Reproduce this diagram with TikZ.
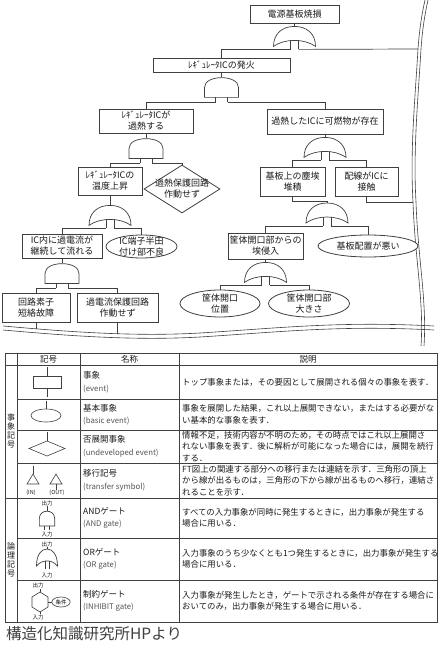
\documentclass[tikz,border=0pt]{standalone}
\usepackage{fontspec}
\setmainfont{Noto Sans CJK JP}
\usepackage{tikz}
\usetikzlibrary{shapes.geometric, arrows.meta, positioning, calc}
\definecolor{FTLine}{HTML}{404040}
\definecolor{FTText}{HTML}{1A1A1A}
\definecolor{FTGrey}{HTML}{555555}
\newcommand{\ftfont}{\fontsize{9}{11}\selectfont}
\newcommand{\tabfont}{\fontsize{8.4}{11.5}\selectfont}
\newcommand{\namefont}{\fontsize{8.5}{12.5}\selectfont}
\newcommand{\engfont}{\fontsize{7.8}{9}\selectfont\color{FTGrey}}
\newcommand{\tinylab}{\fontsize{5.5}{6}\selectfont}
\tikzset{
    % Event styles
    eventbox/.style={
        rectangle,
        draw=FTLine,
        fill=white,
        line width=0.8pt,
        inner sep=1pt,
        align=center,
        text=FTText,
        font=\ftfont
    },
    basicevent/.style={
        ellipse,
        draw=FTLine,
        fill=white,
        line width=0.8pt,
        inner xsep=0pt,
        inner ysep=-5pt,
        align=center,
        text=FTText,
        font=\ftfont
    },
    undevevent/.style={
        diamond,
        draw=FTLine,
        fill=white,
        line width=0.8pt,
        aspect=1.6,
        inner xsep=-16pt,
        inner ysep=0pt,
        align=center,
        text=FTText,
        font=\ftfont
    },
    % Line styles
    ftline/.style={draw=FTLine, line width=0.7pt},
    cutline/.style={draw=FTLine, line width=0.6pt},
    tabline/.style={draw=FTLine, line width=0.9pt},
    symline/.style={draw=FTLine, line width=0.6pt},
    gatebody/.style={draw=FTLine, fill=white, line width=0.7pt},
    % Table text styles
    headcell/.style={font=\namefont, text=FTText, inner sep=0pt},
    namecell/.style={anchor=west, align=left, font=\namefont, text=FTText, inner sep=0pt},
    desccell/.style={anchor=west, align=left, font=\tabfont, text=FTText, inner sep=0pt},
    ionote/.style={font=\tinylab, text=FTText, inner sep=0.5pt},
    % Gates
    andgate/.pic={
        \draw[gatebody] (-17,20) -- (-17,10) .. controls (-17,-3) and (17,-3) .. (17,10) -- (17,20) -- cycle;
        \draw[gatebody] (-6,20) -- (-6,25) coordinate (-l) (6,20) -- (6,25) coordinate (-r);
        \coordinate (-out) at (0,0);
    },
    orgate/.pic={
        \draw[gatebody] (-21,20) .. controls (-21,7) and (-12,0) .. (0,0) .. controls (12,0) and (21,7) .. (21,20) .. controls (10,12) and (-10,12) .. (-21,20) -- cycle;
        \draw[gatebody] (-4,14) -- (-4,23) coordinate (-l) (4,14) -- (4,23) coordinate (-r);
        \coordinate (-out) at (0,0);
    }
}

\begin{document}
\begin{tikzpicture}[x=1pt, y=-1pt]
    \fill[white] (0,0) rectangle (443,650);
    \useasboundingbox (0,0) rectangle (443,650);

    % Cut marks
    \draw[cutline] (425,0) .. controls (421,18) and (419,34) .. (418,49) .. controls (415,100) and (410,150) .. (413,202) .. controls (415,260) and (424,300) .. (421,346);
    \draw[cutline] (428,0) .. controls (424,18) and (422,34) .. (421,49) .. controls (418,100) and (413,150) .. (416,202) .. controls (418,260) and (427,300) .. (424,346);
    \draw[cutline] (3,326) .. controls (60,331) and (130,337) .. (200,333) .. controls (280,328) and (340,321) .. (434,326);
    \draw[cutline] (3,330) .. controls (60,335) and (130,341) .. (200,337) .. controls (280,332) and (340,325) .. (434,330);
    \coordinate (cutA) at (418,49);
    \coordinate (cutB) at (413,202);
    \coordinate (cutC) at (36,329);
    \coordinate (cutD) at (117.5,333.7);

    % Events
    \node[eventbox, minimum width=89pt, minimum height=18pt] (top) at (294.5,14) {電源基板焼損};
    \node[eventbox, minimum width=137pt, minimum height=14pt] (fire) at (221.5,65) {ﾚｷﾞｭﾚｰﾀICの発火};
    \node[eventbox, minimum width=94pt, minimum height=24pt] (heat) at (146,121) {ﾚｷﾞｭﾚｰﾀICが\\過熱する};
    \node[eventbox, minimum width=116pt, minimum height=25pt] (comb) at (325,121.5) {過熱したICに可燃物が存在};
    \node[eventbox, minimum width=64pt, minimum height=28pt] (temp) at (110,181) {ﾚｷﾞｭﾚｰﾀICの\\温度上昇};
    \node[undevevent, minimum width=76pt, minimum height=48pt] (noprot) at (182,189) {過熱保護回路\\作動せず};
    \node[eventbox, minimum width=65pt, minimum height=29pt] (dust) at (292.5,181.5) {基板上の塵埃\\堆積};
    \node[eventbox, minimum width=63pt, minimum height=29pt] (wire) at (366.5,181.5) {配線がICに\\接触};
    \node[eventbox, minimum width=80pt, minimum height=24pt] (oc) at (62,246) {IC内に過電流が\\継続して流れる};
    \node[basicevent, minimum width=71pt, minimum height=23pt] (solder) at (141.5,246.5) {IC端子半田\\付け部不良};
    \node[eventbox, minimum width=75pt, minimum height=26pt] (intake) at (265.5,246) {筐体開口部からの\\埃侵入};
    \node[basicevent, minimum width=100pt, minimum height=22pt] (layout) at (368,246) {基板配置が悪い};
    \node[eventbox, minimum width=68pt, minimum height=29pt] (short) at (36,307.5) {回路素子\\短絡故障};
    \node[eventbox, minimum width=81pt, minimum height=29pt] (protect) at (117.5,307.5) {過電流保護回路\\作動せず};
    \node[basicevent, minimum width=80pt, minimum height=27pt] (pos) at (220,303.5) {筐体開口\\位置};
    \node[basicevent, minimum width=81pt, minimum height=27pt] (size) at (309,303.5) {筐体開口部\\大きさ};

    % Gates
    \pic (g1) at ([yshift=-3pt]top.south) {orgate};
    \pic (g2) at ([yshift=-5pt]fire.south) {andgate};
    \pic (g3) at ([yshift=-5pt]heat.south) {andgate};
    \pic (g4) at ([yshift=-3pt]comb.south) {orgate};
    \pic (g5) at ([yshift=-10pt]temp.south) {orgate};
    \pic (g6) at (327,203) {orgate};
    \pic (g7) at ([yshift=-3pt]intake.south) {orgate};
    \pic (g8) at ([yshift=-5pt]oc.south) {andgate};

    % Connections
    \foreach \parent/\gt in {top/g1, fire/g2, heat/g3, comb/g4, temp/g5, intake/g7, oc/g8}
        \draw[ftline] (\parent.south) -- (\gt-out);
    \foreach \gt/\lchild/\rchild in {g2/heat/comb, g3/temp/noprot, g4/dust/wire, g5/oc/solder,
                                      g6/intake/layout, g7/pos/size, g8/short/protect} {
        \draw[ftline] (\gt-l) -| (\lchild.north);
        \draw[ftline] (\gt-r) -| (\rchild.north);
    }
    \draw[ftline] (g1-l) -| (fire.north);
    \draw[ftline] (g1-r) -- (cutA);
    \draw[ftline] (dust.south) -- ++(0,5) -| (g6-out);
    \draw[ftline] (wire.south) |- (cutB);
    \draw[ftline] (short.south) -- (cutC);
    \draw[ftline] (protect.south) -- (cutD);

    % Table frame
    \draw[tabline] (5,353) rectangle (437,622);
    \foreach \x in {17,80,179}
        \draw[tabline] (\x,353) -- (\x,622);
    \foreach \y in {365,498}
        \draw[tabline] (5,\y) -- (437,\y);
    \foreach \y in {399,430,463,538,580}
        \draw[tabline] (17,\y) -- (437,\y);

    % Header
    \node[headcell] (hdsym) at (48.5,359) {記号};
    \node[headcell] (hdname) at (129.5,359) {名称};
    \node[headcell] (hddesc) at (308,359) {説明};
    \node[headcell, align=center, font=\fontsize{8}{9}\selectfont] (grpev) at (11,431) {事\\象\\記\\号};
    \node[headcell, align=center, font=\fontsize{8}{9}\selectfont] (grplog) at (11,560) {論\\理\\記\\号};

    % Names
    \node[namecell] (nm1) at (83,382) {事象\\{\engfont (event)}};
    \node[namecell] (nm2) at (83,414.5) {基本事象\\{\engfont (basic event)}};
    \node[namecell] (nm3) at (83,446.5) {否展開事象\\{\engfont (undeveloped event)}};
    \node[namecell] (nm4) at (83,480.5) {移行記号\\{\engfont (transfer symbol)}};
    \node[namecell] (nm5) at (83,518) {ANDゲート\\{\engfont (AND gate)}};
    \node[namecell] (nm6) at (83,559) {ORゲート\\{\engfont (OR gate)}};
    \node[namecell] (nm7) at (83,601) {制約ゲート\\{\engfont (INHIBIT gate)}};

    % Descriptions
    \node[desccell] (ds1) at (182,382) {トップ事象または，その要因として展開される個々の事象を表す．};
    \node[desccell] (ds2) at (182,414.5) {事象を展開した結果，これ以上展開できない，またはする必要がな\\い基本的な事象を表す．};
    \node[desccell] (ds3) at (182,446.5) {情報不足，技術内容が不明のため，その時点ではこれ以上展開さ\\れない事象を表す．後に解析が可能になった場合には，展開を続行\\する．};
    \node[desccell] (ds4) at (182,480.5) {FT図上の関連する部分への移行または連結を示す．三角形の頂上\\から線が出るものは，三角形の下から線が出るものへ移行，連結さ\\れることを示す．};
    \node[desccell] (ds5) at (182,518) {すべての入力事象が同時に発生するときに，出力事象が発生する\\場合に用いる．};
    \node[desccell] (ds6) at (182,559) {入力事象のうち少なくとも1つ発生するときに，出力事象が発生する\\場合に用いる．};
    \node[desccell] (ds7) at (182,601) {入力事象が発生したとき，ゲートで示される条件が存在する場合に\\おいてのみ，出力事象が発生する場合に用いる．};

    % Symbols: events
    \draw[symline] (33,376) rectangle (61,388);
    \draw[symline] (47,367) -- (47,376) (47,388) -- (47,397);
    \draw[symline] (46,415.5) ellipse [x radius=15, y radius=6.5];
    \draw[symline] (46,401) -- (46,409);
    \draw[symline] (47,441) -- (65,448.5) -- (47,456) -- (29,448.5) -- cycle;
    \draw[symline] (47,432) -- (47,441);
    \draw[symline] (33,474) -- (39,484) -- (27,484) -- cycle;
    \draw[symline] (33,466) -- (33,474);
    \draw[symline] (56,474) -- (62,484) -- (50,484) -- cycle;
    \draw[symline] (56,484) -- (56,490);
    \node[ionote] (tin) at (31,493) {(IN)};
    \node[ionote] (tout) at (57,493) {(OUT)};

    % Symbols: gates
    \node[ionote] (andout) at (47,503) {出力};
    \pic[xscale=0.45, yscale=0.75] (tand) at (47,511) {andgate};
    \node[ionote] (andin) at (47,534) {入力};
    \draw[symline] (andout.south) -- (tand-out);

    \node[ionote] (orout) at (47,544) {出力};
    \pic[xscale=0.5, yscale=0.85] (tor) at (47,549) {orgate};
    \node[ionote] (orin) at (47,575) {入力};
    \draw[symline] (orout.south) -- (tor-out);

    \node[ionote] (inhout) at (38,585) {出力};
    \draw[symline] (40,592) -- (48,597) -- (48,607) -- (40,612) -- (32,607) -- (32,597) -- cycle;
    \draw[symline] (40,589) -- (40,592) (40,612) -- (40,614);
    \node[ionote] (inhin) at (38,617.5) {入力};
    \node[draw=FTLine, line width=0.6pt, ellipse, inner xsep=1pt, inner ysep=0pt, minimum width=17pt, minimum height=10pt, font=\tinylab] (cond) at (61,602) {条件};
    \draw[symline] (48,602) -- (cond.west);

    % Source
    \node[anchor=west, font=\fontsize{15.5}{17}\selectfont, text=FTLine, inner sep=0pt] (src) at (6,634) {構造化知識研究所HPより};
\end{tikzpicture}
\end{document}
